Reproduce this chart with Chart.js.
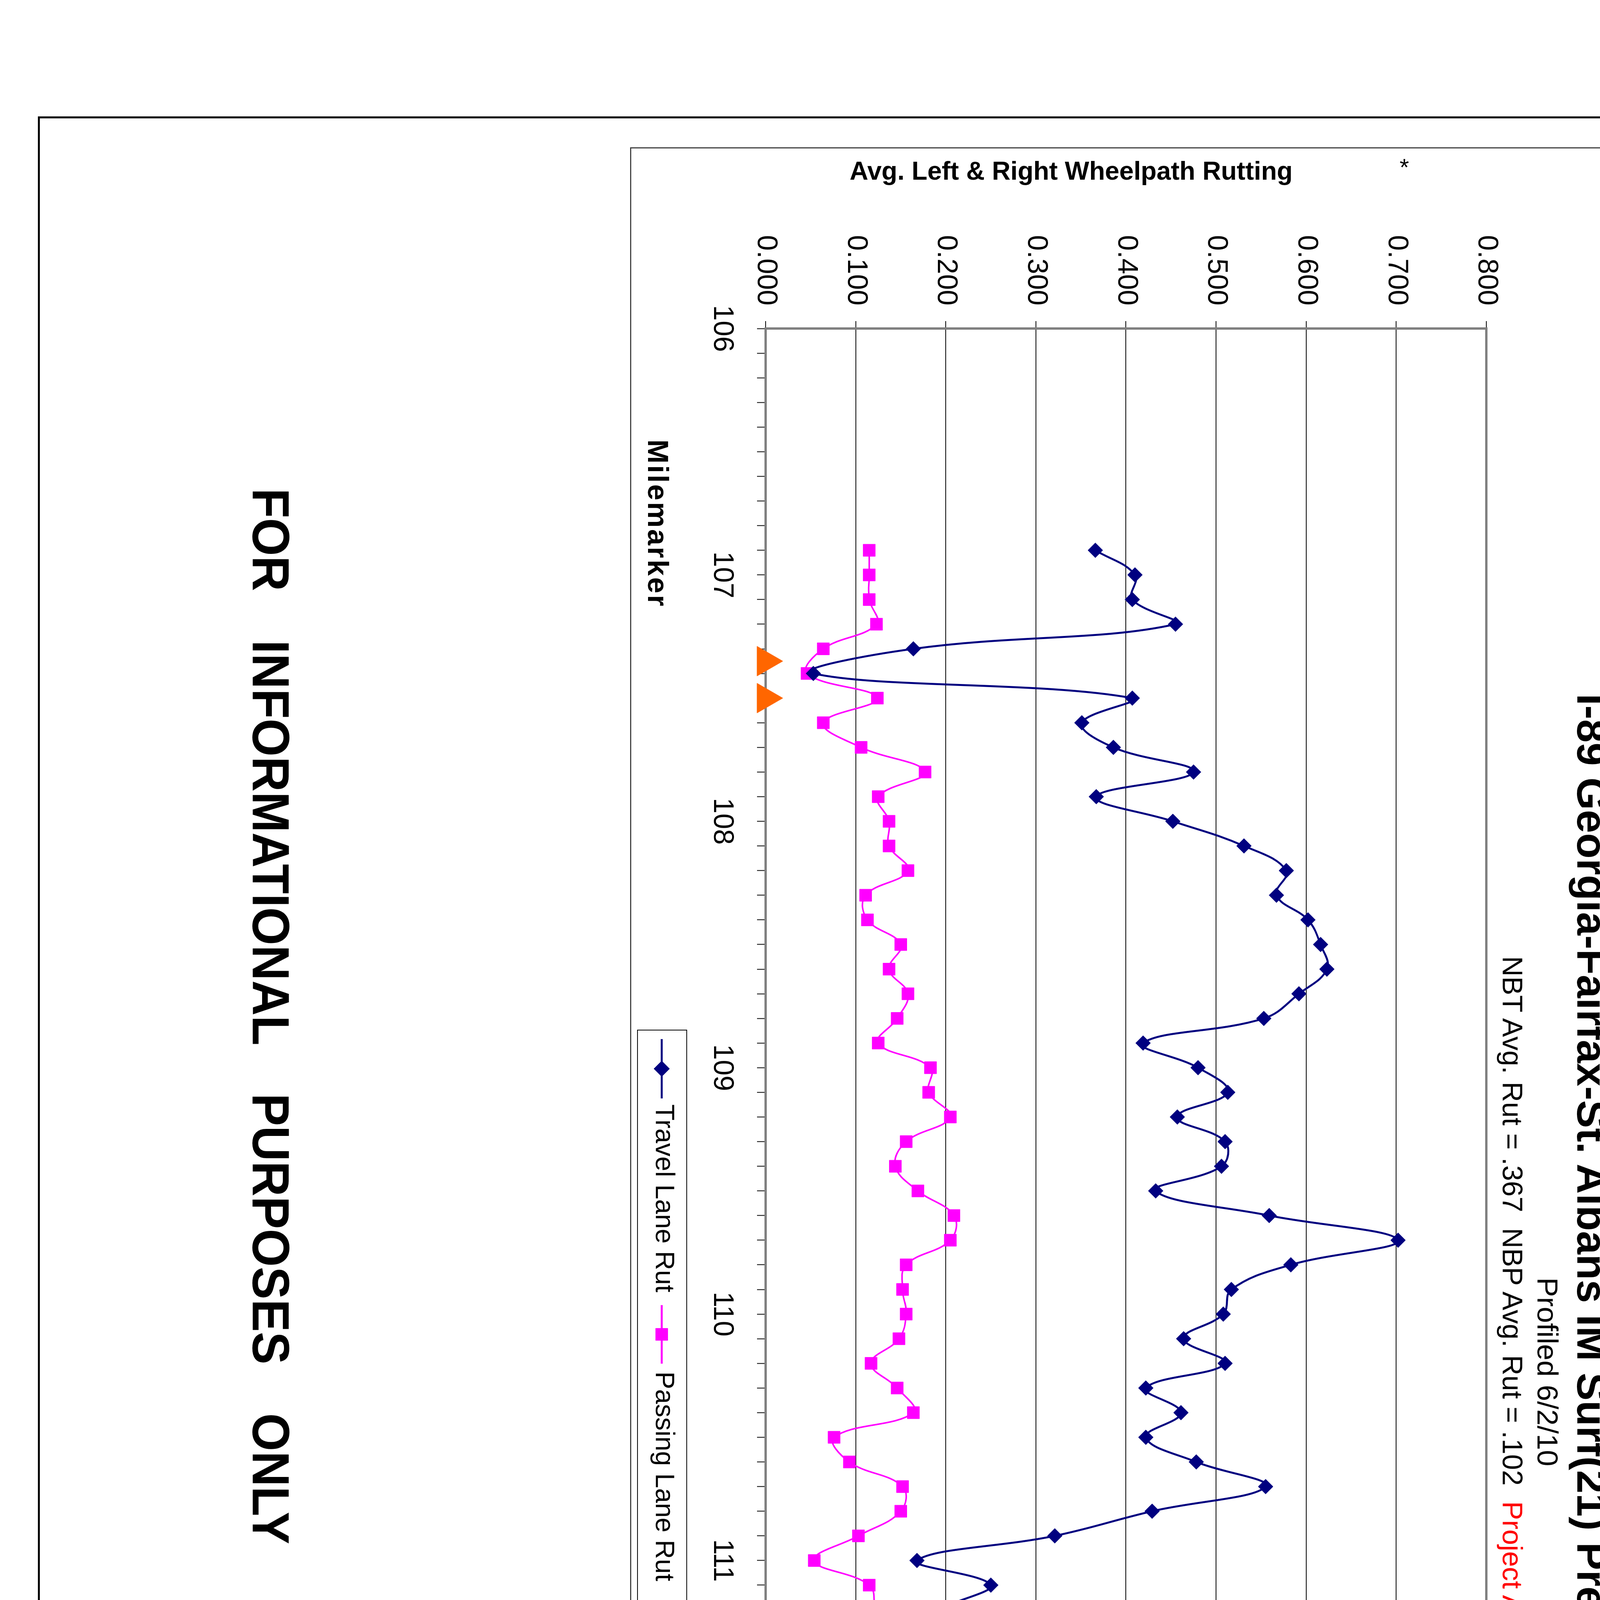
<!DOCTYPE html>
<html>
<head>
<meta charset="utf-8">
<script src="https://cdn.jsdelivr.net/npm/chart.js@4.4.1/dist/chart.umd.min.js"></script>
<style>
html, body { margin: 0; padding: 0; background: #fff; }
body { width: 4400px; height: 6800px; overflow: hidden; position: relative; font-family: 'Liberation Sans', Arial, sans-serif; }
/* the sheet is laid out landscape and turned a quarter clockwise */
#sheet { position: absolute; left: 0; top: 0; width: 6800px; height: 4400px; transform-origin: 0 0; transform: translateX(4400px) rotate(90deg); background: #fff; }
.t { position: absolute; white-space: pre; line-height: 1; color: #000; }
.box { position: absolute; box-sizing: border-box; }
#chartWrap { position: absolute; left: 377px; top: 175px; width: 6264px; height: 2612px; }
</style>
</head>
<body>
<div id="sheet">
  <div class="box" style="left:298px;top:98px;width:6404px;height:4205px;border:5px solid #000;"></div>
  <div id="chartWrap"><canvas id="rut" width="6264" height="2612"></canvas></div>
  <div class="box" style="left:377px;top:175px;width:6264px;height:2612px;border:3px solid #444;"></div>
  <!-- title block -->
  <div class="box" style="left:4686px;top:3908px;width:2016px;height:395px;border-left:5px solid #000;border-top:6px solid #000;"></div>
  <div class="box" style="left:5241px;top:3910px;width:5px;height:391px;background:#000;"></div>
  <div class="box" style="left:5243px;top:4067px;width:1459px;height:5px;background:#000;"></div>
</div>
<script>
// milemarker of each profile reading (every tenth of a mile)
const milemarkers = [
  106.9, 107.0, 107.1, 107.2, 107.3, 107.4, 107.5, 107.6, 107.7, 107.8, 107.9,
  108.0, 108.1, 108.2, 108.3, 108.4, 108.5, 108.6, 108.7, 108.8, 108.9,
  109.0, 109.1, 109.2, 109.3, 109.4, 109.5, 109.6, 109.7, 109.8, 109.9,
  110.0, 110.1, 110.2, 110.3, 110.4, 110.5, 110.6, 110.7, 110.8, 110.9,
  111.0, 111.1, 111.2, 111.3, 111.4, 111.5, 111.6, 111.7, 111.8, 111.9,
  112.0, 112.1, 112.2, 112.3, 112.4, 112.5, 112.6, 112.7, 112.8, 112.9,
  113.0, 113.1, 113.2, 113.3, 113.4, 113.5, 113.6, 113.7, 113.8, 113.9,
  114.0
];
const travelRut = [
  0.366, 0.410, 0.407, 0.455, 0.164, 0.053, 0.407, 0.351, 0.386, 0.475, 0.367,
  0.452, 0.531, 0.578, 0.567, 0.602, 0.616, 0.623, 0.592, 0.553, 0.419,
  0.480, 0.513, 0.457, 0.510, 0.506, 0.433, 0.559, 0.702, 0.583, 0.517,
  0.508, 0.464, 0.510, 0.422, 0.461, 0.422, 0.478, 0.555, 0.429, 0.321,
  0.168, 0.250, 0.201, 0.302, 0.294, 0.386, 0.349, 0.337, 0.386, 0.311,
  0.260, 0.262, 0.260, 0.254, 0.241, 0.219, 0.250, 0.276, 0.232, 0.194,
  0.222, 0.211, 0.176, 0.142, 0.105, 0.117, 0.141, 0.166, 0.145, 0.131,
  0.164
];
const passingRut = [
  0.115, 0.115, 0.115, 0.123, 0.064, 0.046, 0.124, 0.064, 0.106, 0.177, 0.125,
  0.137, 0.137, 0.158, 0.111, 0.113, 0.150, 0.137, 0.158, 0.146, 0.125,
  0.183, 0.181, 0.205, 0.156, 0.144, 0.169, 0.209, 0.205, 0.156, 0.152,
  0.156, 0.148, 0.117, 0.146, 0.164, 0.076, 0.093, 0.152, 0.150, 0.103,
  0.054, 0.115, 0.121, 0.124, 0.092, 0.078, 0.093, 0.087, 0.092, 0.050,
  0.045, 0.073, 0.056, 0.042, 0.042, 0.040, 0.052, 0.030, 0.017, 0.024,
  0.024, 0.030, 0.038, 0.040, 0.047, 0.052, 0.052, 0.052, 0.009, 0.021,
  0.030
];
// bridge start / end limits, drawn on the zero line
const bridgeMiles = [107.35, 107.5, 111.28, 111.33, 113.66, 113.72];
const bridgeRut = [0, 0, 0, 0, 0, 0];

const seriesNames = ['Travel Lane Rut', 'Passing Lane Rut', 'Bridge Limits'];
const chartTitle = 'I-89 Georgia-Fairfax-St. Albans IM Surf(21) Preconstruction (Rutting)';
const chartSubtitle = 'Profiled 6/2/10';
const avgLine = ['NBT Avg. Rut = .367  NBP Avg. Rut = .102  ', 'Project Avg. Rut = .234'];

const FONT = "'Liberation Sans', Arial, sans-serif";
const sheet = document.getElementById('sheet');

// text placed by its baseline
function put(txt, x, base, size, o) {
  o = o || {};
  const el = document.createElement('div');
  el.className = 't';
  if (o.html) el.innerHTML = txt; else el.textContent = txt;
  el.style.fontSize = size + 'px';
  el.style.fontWeight = o.bold ? 'bold' : 'normal';
  if (o.ls) el.style.letterSpacing = o.ls + 'px';
  if (o.ws) el.style.wordSpacing = o.ws + 'px';
  if (o.color) el.style.color = o.color;
  el.style.top = (base - 0.846 * size) + 'px';
  el.style.left = x + 'px';
  sheet.appendChild(el);
  let tf = '';
  if (o.center) tf += 'translateX(-50%) ';
  if (o.width) {
    if (!o.center) el.style.transformOrigin = '0 0';
    tf += 'scaleX(' + (o.width / el.offsetWidth).toFixed(4) + ')';
  }
  if (tf) el.style.transform = tf;
  return el;
}

// text turned to read upward, placed by its centre
function putUp(txt, cx, cy, size, bold) {
  const el = document.createElement('div');
  el.className = 't';
  el.textContent = txt;
  el.style.fontSize = size + 'px';
  el.style.fontWeight = bold ? 'bold' : 'normal';
  el.style.left = cx + 'px';
  el.style.top = cy + 'px';
  el.style.transform = 'translate(-50%,-50%) rotate(-90deg)';
  sheet.appendChild(el);
}

// chart titles
put(chartTitle, 3510, 363, 107, {bold: true, center: true});
put(chartSubtitle, 3512, 464, 75, {center: true});
put(avgLine[0] + '<span style="color:#ff0000">' + avgLine[1] + '</span>', 3514, 553, 72, {html: true, center: true});
putUp('Avg. Left & Right Wheelpath Rutting', 437, 1658, 66, true);
putUp('*', 428, 805, 62, false);
put('Milemarker', 1125, 2742, 74, {bold: true, ls: 4});

put('FOR  INFORMATIONAL  PURPOSES  ONLY', 1250, 3753, 134, {bold: true, ws: 30, width: 2703});

// title block
put('RUTTING', 4965, 3997, 66, {bold: true, center: true});
put('DATA', 4965, 4087, 66, {bold: true, center: true});
put('INFORMATION', 4965, 4178, 66, {bold: true, center: true});
put('NB LANE', 4965, 4268, 66, {bold: true, center: true});

put('PROJECT NAME:', 5280, 3963, 38, {width: 274});
put('GEORGIA - ST. ALBANS', 5764, 3973, 60, {width: 674});
put('PROJECT NUMBER:', 5280, 4034, 38, {width: 309});
put('IM SURF (21)', 5764, 4044, 60, {width: 379});

put('FILE NAME: pl00092.dgn', 5280, 4117, 38, {width: 435});
put('PLOT DATE: 27-JUL-2010', 6136, 4117, 38, {width: 464});
put('PROJECT LEADER:  M. FOWLER', 5280, 4172, 38, {width: 562});
put('DRAWN BY:  LOCKE', 6136, 4172, 38, {width: 351});
put('DESIGNED BY:  LOCKE', 5280, 4222, 38, {width: 407});
put('CHECKED BY:  PAVT MGMT', 6136, 4222, 38, {width: 492});
put('IPARM FILE NAME:  pl00092rutnb.i', 5280, 4273, 38, {width: 659});
put('SHEET  15  OF  16', 6136, 4273, 38, {width: 394});

// grey frame round the plot area
const plotFrame = {
  id: 'plotFrame',
  beforeDatasetsDraw(chart) {
    const {ctx, chartArea: a} = chart;
    ctx.save();
    ctx.strokeStyle = '#808080';
    ctx.lineWidth = 6;
    ctx.strokeRect(a.left, a.top, a.right - a.left, a.bottom - a.top);
    ctx.restore();
  }
};

// excel style legend: line with marker, then the name
const lineLegend = {
  id: 'lineLegend',
  afterDraw(chart) {
    const ctx = chart.ctx;
    const items = [
      {x: 2283, len: 152, text: 2450, r: 20, ds: chart.data.datasets[1]},
      {x: 2964, len: 150, text: 3134, r: 22, ds: chart.data.datasets[2]},
      {x: 3750, len: 80, text: 3880, r: 29, ds: chart.data.datasets[0]}
    ];
    const cy = 2531;
    ctx.save();
    ctx.fillStyle = '#fff';
    ctx.fillRect(2260, 2467, 2060, 126);
    ctx.strokeStyle = '#000';
    ctx.lineWidth = 2;
    ctx.strokeRect(2260, 2467, 2060, 126);
    items.forEach(it => {
      const ds = it.ds;
      const tri = ds.pointStyle === 'triangle';
      if (ds.showLine !== false) {
        ctx.strokeStyle = ds.borderColor;
        ctx.lineWidth = 5;
        ctx.beginPath();
        ctx.moveTo(it.x, cy);
        ctx.lineTo(it.x + it.len, cy);
        ctx.stroke();
      }
      ctx.fillStyle = ds.pointBackgroundColor;
      ctx.strokeStyle = ds.pointBorderColor;
      ctx.lineWidth = 1;
      Chart.helpers.drawPoint(ctx, {pointStyle: ds.pointStyle, radius: it.r, rotation: 0, borderWidth: 1},
        it.x + it.len / 2, tri ? 2535 : cy);
      ctx.fillStyle = '#000';
      ctx.font = '68px ' + FONT;
      ctx.textBaseline = 'alphabetic';
      ctx.textAlign = 'left';
      ctx.fillText(ds.label, it.text, 2546);
    });
    ctx.restore();
  }
};

Chart.defaults.font.family = FONT;
Chart.defaults.color = '#000';

new Chart(document.getElementById('rut'), {
  type: 'line',
  data: {
    datasets: [
      {
        label: seriesNames[2],
        data: bridgeMiles.map((m, i) => ({x: m, y: bridgeRut[i]})),
        showLine: false,
        pointStyle: 'triangle',
        pointRadius: 44,
        pointBackgroundColor: '#ff6600',
        pointBorderColor: '#ff6600',
        pointBorderWidth: 1,
        borderColor: '#ff6600',
        clip: false,
        order: 0
      },
      {
        label: seriesNames[0],
        data: milemarkers.map((m, i) => ({x: m, y: travelRut[i]})),
        borderColor: '#000080',
        borderWidth: 5,
        tension: 0.4,
        pointStyle: 'rectRot',
        pointRadius: 19,
        pointBackgroundColor: '#000080',
        pointBorderColor: '#000080',
        pointBorderWidth: 1,
        order: 1
      },
      {
        label: seriesNames[1],
        data: milemarkers.map((m, i) => ({x: m, y: passingRut[i]})),
        borderColor: '#ff00ff',
        borderWidth: 4,
        tension: 0.4,
        pointStyle: 'rect',
        pointRadius: 22,
        pointBackgroundColor: '#ff00ff',
        pointBorderColor: '#ff00ff',
        pointBorderWidth: 1,
        order: 2
      }
    ]
  },
  options: {
    responsive: false,
    animation: false,
    devicePixelRatio: 1,
    layout: {padding: {top: 420, right: 123, left: 0, bottom: 0}},
    plugins: {legend: {display: false}, title: {display: false}, tooltip: {enabled: false}},
    scales: {
      x: {
        type: 'linear',
        min: 106,
        max: 115,
        ticks: {
          stepSize: 0.1,
          autoSkip: false,
          maxRotation: 0,
          font: {size: 72},
          padding: 47,
          callback: v => Math.abs(v - Math.round(v)) < 1e-6 ? String(Math.round(v)) : ''
        },
        grid: {drawOnChartArea: false, tickLength: 22, tickColor: '#000', tickWidth: 2},
        border: {color: '#808080', width: 6},
        afterFit: s => { s.height = 347; }
      },
      y: {
        min: 0,
        max: 0.8,
        ticks: {stepSize: 0.1, font: {size: 72}, padding: 40, callback: v => v.toFixed(3)},
        grid: {color: '#000', lineWidth: 2, tickLength: 19, tickColor: '#000'},
        border: {color: '#808080', width: 6},
        afterFit: s => { s.width = 464; }
      }
    }
  },
  plugins: [plotFrame, lineLegend]
});
</script>
</body>
</html>
